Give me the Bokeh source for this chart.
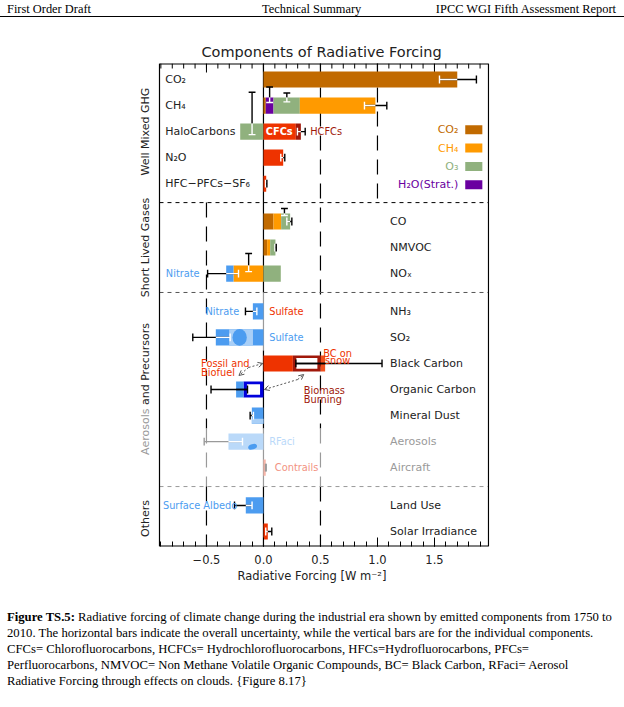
import math
from bokeh.plotting import figure
from bokeh.models import Range1d, FixedTicker, Arrow, OpenHead, Div
from bokeh.layouts import column
from bokeh.embed import file_html
from bokeh.resources import INLINE
from bokeh.core.properties import value

# ------------------------------------------------------------------ data
groups = ["Well Mixed GHG", "Short Lived Gases", "Aerosols and Precursors", "Others"]
row_names = ["CO₂", "CH₄", "HaloCarbons", "N₂O", "HFC−PFCs−SF₆",
             "CO", "NMVOC", "NOₓ",
             "NH₃", "SO₂", "Black Carbon", "Organic Carbon", "Mineral Dust", "Aerosols", "Aircraft",
             "Land Use", "Solar Irradiance"]
row_group = [0, 0, 0, 0, 0, 1, 1, 1, 2, 2, 2, 2, 2, 2, 2, 3, 3]

# stacked components (row, component, forcing W m-2)
seg_row = ["CO₂",
           "CH₄", "CH₄", "CH₄", "CH₄",
           "HaloCarbons", "HaloCarbons", "HaloCarbons",
           "N₂O", "HFC−PFCs−SF₆",
           "CO", "CO", "CO",
           "NMVOC", "NMVOC", "NMVOC",
           "NOₓ", "NOₓ", "NOₓ",
           "NH₃", "SO₂",
           "Black Carbon", "Black Carbon", "Black Carbon",
           "Organic Carbon", "Organic Carbon",
           "Mineral Dust", "Aerosols", "Aircraft", "Land Use", "Solar Irradiance"]
seg_comp = ["CO2",
            "CO2", "H2O", "O3", "CH4",
            "O3", "CFCs", "HCFCs",
            "N2O", "HFC",
            "CO2", "CH4", "O3",
            "CO2", "CH4", "O3",
            "CH4", "Nitrate", "O3",
            "Nitrate", "Sulfate",
            "BC fossil", "BC biomass", "BC snow",
            "OC biomass", "OC fossil",
            "Dust", "RFaci", "Contrails", "Albedo", "Solar"]
seg_value = [1.70,
             0.020, 0.068, 0.231, 0.663,
             -0.204, 0.284, 0.044,
             0.173, 0.024,
             0.088, 0.067, 0.079,
             0.032, 0.027, 0.046,
             -0.263, -0.064, 0.152,
             -0.093, -0.418,
             0.258, 0.245, 0.038,
             -0.175, -0.065,
             -0.102, -0.307, 0.020, -0.155, 0.038]

# overall uncertainty (horizontal bars), one per row
unc_lo = [1.544, 0.886, 0.298, 0.152, 0.018, 0.205, 0.100, -0.490, -0.158, -0.620,
          0.284, -0.460, -0.117, -0.520, 0.018, -0.254, 0.020]
unc_hi = [1.868, 1.082, 0.366, 0.187, 0.030, 0.249, 0.112, -0.219, -0.058, -0.292,
          1.040, -0.140, -0.088, -0.184, 0.024, -0.100, 0.073]

# individual component uncertainty (vertical bars): x, top / bottom (row units)
vb_row = ["CH₄", "CH₄", "HaloCarbons", "CO", "NOₓ"]
vb_x = [0.054, 0.205, -0.100, 0.184, -0.130]
vb_top = [0.71, 0.48, 1.51, 0.50, 0.77]
vb_bot = [0.115, 0.14, -0.115, 0.23, 0.077]

legend_names = ["CO₂", "CH₄", "O₃", "H₂O(Strat.)"]
legend_comp = ["CO2", "CH4", "O3", "H2O"]

x_ticks = [-0.5, 0.0, 0.5, 1.0, 1.5]
x_tick_labels = ["−0.5", "0.0", "0.5", "1.0", "1.5"]

# ------------------------------------------------------------------ styles
FONT = "DejaVu Sans"
INK = "#222222"
comp_color = {"CO2": "#C16A00", "CH4": "#FF9A00", "O3": "#90B17E", "H2O": "#6A00A0",
              "CFCs": "#EE3300", "HCFCs": "#A0180A", "N2O": "#EE3300", "HFC": "#EE3300",
              "Nitrate": "#4C9CF0", "Sulfate": "#4C9CF0", "BC fossil": "#EE3300",
              "BC biomass": "#A0180A", "BC snow": "#F2501E", "OC biomass": "#0000DD",
              "OC fossil": "#4C9CF0", "Dust": "#4C9CF0", "RFaci": "#BAD9F9",
              "Contrails": "#F7B5A8", "Albedo": "#4C9CF0", "Solar": "#EE3300"}
LIGHT_BLUE = "#A9CFF7"
GRAY = "#9A9A9A"
BAR_H = 0.62
PX = 1.0 / 26.05          # one pixel in row units
XPX = 1.0 / 114.0         # one pixel in forcing units

gap = 0.45
ypos = [-(i + gap * g) for i, g in enumerate(row_group)]
yrow = dict(zip(row_names, ypos))
y_top = ypos[0] + 16 * PX
y_bot = ypos[-1] - 15 * PX
BX0, BX1 = -0.912, 1.974            # chart box
FX0, FX1 = BX0 - 25 * XPX, BX1 + 1 * XPX   # frame incl. group-label strip

p = figure(width=624, height=587, x_range=Range1d(FX0, FX1), y_range=Range1d(y_bot, y_top),
           output_backend="svg", toolbar_location=None, y_axis_location=None,
           min_border_left=134, min_border_right=135, min_border_top=45, min_border_bottom=59,
           background_fill_color="white", border_fill_color="white")
p.grid.visible = False
p.outline_line_color = None

p.title.text = "Components of Radiative Forcing"
p.title.align = "left"
p.title.offset = 67
p.title.text_font = FONT
p.title.text_font_size = "14.5px"
p.title.text_font_style = "normal"
p.title.text_color = INK
p.title.standoff = 7

minor = [round(i * 0.1, 1) for i in range(-9, 20)]
ax = p.xaxis[0]
ax.ticker = FixedTicker(ticks=x_ticks, minor_ticks=minor)
ax.major_label_overrides = dict(zip(x_ticks, x_tick_labels))
ax.major_tick_in = 9
ax.major_tick_out = 0
ax.minor_tick_in = 5
ax.minor_tick_out = 0
ax.major_tick_line_color = "black"
ax.minor_tick_line_color = "black"
ax.major_label_standoff = 8
ax.major_label_text_font = FONT
ax.major_label_text_font_size = "11.5px"
ax.major_label_text_color = INK
ax.axis_label = "Radiative Forcing [W m⁻²]"
ax.axis_label_text_font = FONT
ax.axis_label_text_font_size = "11.5px"
ax.axis_label_text_font_style = "normal"
ax.axis_label_text_color = INK
ax.axis_label_standoff = 2
ax.axis_line_color = None

# ------------------------------------------------------------------ guide lines
sep = []
for g in range(len(groups) - 1):
    last = max(i for i, gg in enumerate(row_group) if gg == g)
    sep.append((ypos[last] + ypos[last + 1]) / 2)
y_aer_top = yrow["Aerosols"] + 0.5
y_bc_top = yrow["Black Carbon"] + 0.5

dash_x = [1.0, 0.5, 0.5, 0.5, -0.5, -0.5, -0.5]
dash_y0 = [y_top, y_top, y_aer_top, sep[2], sep[0], y_aer_top, sep[2]]
dash_y1 = [sep[0], y_aer_top, sep[2], y_bot, y_aer_top, sep[2], y_bot]
dash_c = ["black", "black", GRAY, "black", "black", GRAY, "black"]
p.segment(x0=dash_x, y0=dash_y0, x1=dash_x, y1=dash_y1, line_color=dash_c,
          line_width=1.2, line_dash="15 9")

zero_y0 = [y_top, sep[1], y_bc_top, y_aer_top, sep[2]]
zero_y1 = [sep[1], y_bc_top, y_aer_top, sep[2], y_bot]
zero_c = ["black", GRAY, "black", GRAY, "black"]
p.segment(x0=[0] * 5, y0=zero_y0, x1=[0] * 5, y1=zero_y1, line_color=zero_c, line_width=1.2)

p.segment(x0=[BX0] * 3, y0=sep, x1=[BX1] * 3, y1=sep, line_color=["black", "#555555", GRAY],
          line_width=1, line_dash="4 4")

# chart box and top ticks
p.segment(x0=[BX0, BX0, BX0, BX1], y0=[y_top, y_bot, y_bot, y_bot],
          x1=[BX1, BX1, BX0, BX1], y1=[y_top, y_bot, y_top, y_top],
          line_color="black", line_width=[2, 2, 1.2, 1.2])
p.segment(x0=x_ticks, y0=[y_top] * len(x_ticks), x1=x_ticks, y1=[y_top - 9 * PX] * len(x_ticks),
          line_color="black", line_width=1)
p.segment(x0=minor, y0=[y_top] * len(minor), x1=minor, y1=[y_top - 5 * PX] * len(minor),
          line_color="black", line_width=1)

# ------------------------------------------------------------------ bars
pos_acc = {r: 0.0 for r in row_names}
neg_acc = {r: 0.0 for r in row_names}
seg_left, seg_right = [], []
for r, v in zip(seg_row, seg_value):
    if v >= 0:
        l = pos_acc[r]; rr = l + v; pos_acc[r] = rr
    else:
        rr = neg_acc[r]; l = rr + v; neg_acc[r] = l
    seg_left.append(l)
    seg_right.append(rr)
bar_min = dict(neg_acc)
bar_max = dict(pos_acc)

p.hbar(y=[yrow[r] for r in seg_row], left=seg_left, right=seg_right, height=BAR_H,
       fill_color=[comp_color[c] for c in seg_comp], line_color=None)

# white interiors of boxed (biomass) components
box_i = [i for i, c in enumerate(seg_comp) if c in ("BC biomass", "OC biomass")]
p.hbar(y=[yrow[seg_row[i]] for i in box_i], left=[seg_left[i] + 0.03 for i in box_i],
       right=[seg_right[i] - 0.03 for i in box_i], height=BAR_H - 0.21,
       fill_color="white", line_color=None)

# sulfate texture, dust strip, RFaci blob
sv = seg_value[seg_comp.index("Sulfate")]
p.hbar(y=[yrow["SO₂"]], left=[0.72 * sv], right=[0.22 * sv], height=BAR_H,
       fill_color=LIGHT_BLUE, line_color=None)
p.ellipse(x=[0.5 * sv], y=[yrow["SO₂"]], width=-0.3 * sv, height=BAR_H * 1.04,
          fill_color=comp_color["Sulfate"], line_color=None)
dv = seg_value[seg_comp.index("Dust")]
p.hbar(y=[yrow["Mineral Dust"] - BAR_H / 2 + 2.5 * PX], left=[dv], right=[0], height=5 * PX,
       fill_color=LIGHT_BLUE, line_color=None)
rv = seg_value[seg_comp.index("RFaci")]
p.ellipse(x=[0.31 * rv], y=[yrow["Aerosols"] - 0.2], width=-0.26 * rv, height=0.2, angle=0.3,
          fill_color=comp_color["Nitrate"], line_color=None)

# ------------------------------------------------------------------ uncertainty bars
gray_rows = {"Aerosols", "Aircraft"}
boxed_rows = {"Black Carbon", "Organic Carbon"}
lx0, lx1, ly, lc = [], [], [], []
cx, cy0, cy1, cc = [], [], [], []
for i, r in enumerate(row_names):
    lo, hi, y = unc_lo[i], unc_hi[i], yrow[r]
    outer = GRAY if r in gray_rows else "black"
    inner = "black" if r in boxed_rows else (GRAY if r == "Aircraft" else "white")
    lx0.append(lo); lx1.append(hi); ly.append(y); lc.append(outer)
    a, b = max(lo, bar_min[r]), min(hi, bar_max[r])
    if a < b:
        lx0.append(a); lx1.append(b); ly.append(y); lc.append(inner)
    for xx in (lo, hi):
        cx.append(xx); cy0.append(y - 0.15); cy1.append(y + 0.15)
        cc.append(inner if bar_min[r] <= xx <= bar_max[r] else outer)
p.segment(x0=lx0, y0=ly, x1=lx1, y1=ly, line_color=lc, line_width=1.4)
p.segment(x0=cx, y0=cy0, x1=cx, y1=cy1, line_color=cc, line_width=1.4)

vx, vy0, vy1, vc = [], [], [], []
hx0, hx1, hy, hc = [], [], [], []
half = BAR_H / 2
for r, x, t, b in zip(vb_row, vb_x, vb_top, vb_bot):
    y = yrow[r]
    if t > half:
        vx.append(x); vy0.append(y + half); vy1.append(y + t); vc.append("black")
        vx.append(x); vy0.append(y + b); vy1.append(y + half); vc.append("white")
    else:
        vx.append(x); vy0.append(y + b); vy1.append(y + t); vc.append("white")
    hx0 += [x - 0.03, x - 0.03]; hx1 += [x + 0.03, x + 0.03]
    hy += [y + t, y + b]
    hc += ["black" if t > half else "white", "white" if -half < b < half else "black"]
p.segment(x0=vx, y0=vy0, x1=vx, y1=vy1, line_color=vc, line_width=1.4)
p.segment(x0=hx0, y0=hy, x1=hx1, y1=hy, line_color=hc, line_width=1.4)

# ------------------------------------------------------------------ texts
left_rows = row_names[:5]
right_rows = row_names[5:]
p.text(x=[-0.862] * len(left_rows), y=[yrow[r] for r in left_rows], text=left_rows,
       text_font=value(FONT), text_font_size="11px", text_color=INK,
       text_align="left", text_baseline="middle")
p.text(x=[1.111] * len(right_rows), y=[yrow[r] for r in right_rows], text=right_rows,
       text_font=value(FONT), text_font_size="11px",
       text_color=[GRAY if r in gray_rows else INK for r in right_rows],
       text_align="left", text_baseline="middle")

note_text = ["HCFCs", "Sulfate", "Sulfate", "RFaci", "Contrails", "Surface Albedo"]
note_row = ["HaloCarbons", "NH₃", "SO₂", "Aerosols", "Aircraft", "Land Use"]
note_x = [0.41, 0.05, 0.05, 0.05, 0.10, -0.882]
note_c = ["#A0180A", "#EE3300", "#4C9CF0", "#BAD9F9", "#F29282", "#4C9CF0"]
p.text(x=note_x, y=[yrow[r] for r in note_row], text=note_text, text_font=value(FONT),
       text_font_size="9.8px", text_color=note_c, text_align="left", text_baseline="middle")
p.text(x=[-0.56, -0.213], y=[yrow["NOₓ"], yrow["NH₃"]], text=["Nitrate", "Nitrate"],
       text_font=value(FONT), text_font_size="9.8px", text_color="#4C9CF0",
       text_align="right", text_baseline="middle")
p.text(x=[0.02], y=[yrow["HaloCarbons"]], text=["CFCs"], text_font=value(FONT),
       text_font_size="9.8px", text_font_style="bold", text_color="white",
       text_align="left", text_baseline="middle")
yb, yo = yrow["Black Carbon"], yrow["Organic Carbon"]
p.text(x=[-0.547, -0.547, 0.65, 0.65, 0.353, 0.353],
       y=[yb - 0 * PX, yb - 9.3 * PX, yb + 10 * PX, yb + 3 * PX, yo - 0.7 * PX, yo - 10 * PX],
       text=["Fossil and", "Biofuel", "BC on", "snow", "Biomass", "Burning"],
       text_align=["left", "left", "center", "center", "left", "left"],
       text_color=["#EE3300", "#EE3300", "#EE3300", "#EE3300", "#A0180A", "#A0180A"],
       text_font=value(FONT), text_font_size="9.8px", text_baseline="alphabetic")

# dotted pointer arrows
for xs, ys, xe, ye in [(-0.13, yb - 4 * PX, -0.005, yb),
                       (-0.13, yb - 4 * PX, -0.215, yb - 12 * PX),
                       (0.30, yo + 10 * PX, 0.008, yo),
                       (0.30, yo + 10 * PX, 0.353, yo + 15 * PX)]:
    p.add_layout(Arrow(end=OpenHead(size=5, line_color="#555555", line_width=1),
                       x_start=xs, y_start=ys, x_end=xe, y_end=ye,
                       line_color="#555555", line_width=1, line_dash="2 2"))

# legend
leg_y = [yrow["HaloCarbons"] + 1.8 * PX - 18.3 * PX * i for i in range(len(legend_names))]
p.hbar(y=leg_y, left=1.77, right=1.92, height=9 * PX,
       fill_color=[comp_color[c] for c in legend_comp], line_color=None)
p.text(x=[1.71] * 4, y=leg_y, text=legend_names, text_font=value(FONT), text_font_size="11px",
       text_color=[comp_color[c] for c in legend_comp], text_align="right",
       text_baseline="middle")

# group labels (strip left of the chart box)
GX = -1.038
gcent = []
for g in range(len(groups)):
    ys = [ypos[i] for i, gg in enumerate(row_group) if gg == g]
    gcent.append((max(ys) + min(ys)) / 2)
split = gcent[2] - 19 * PX
g_text = [groups[0], groups[1], groups[3], "Aerosols", "and Precursors"]
g_y = [gcent[0], gcent[1], gcent[3], split, split + 3.5 * PX]
p.text(x=[GX] * 5, y=g_y, text=g_text, angle=math.pi / 2,
       text_align=["center", "center", "center", "right", "left"],
       text_color=[INK, INK, INK, GRAY, INK], text_font=value(FONT), text_font_size="11px",
       text_baseline="middle")

# ------------------------------------------------------------------ page header / caption
SERIF = "font-family:'Liberation Serif','Times New Roman',serif;color:#000;"
header = Div(width=624, height=18, margin=(0, 0, 0, 0), text=(
    '<div style="position:relative;width:624px;height:17px;border-bottom:1px solid #000;'
    + SERIF + 'font-size:12.4px;line-height:14px;">'
    '<span style="position:absolute;left:7px;top:2px;white-space:nowrap;">First Order Draft</span>'
    '<span style="position:absolute;left:262px;top:2px;white-space:nowrap;">Technical Summary</span>'
    '<span style="position:absolute;right:8px;top:2px;white-space:nowrap;">IPCC WGI Fifth Assessment Report</span>'
    '</div>'))
caption = Div(width=624, height=100, margin=(0, 0, 0, 0), text=(
    '<div style="' + SERIF + 'font-size:12.7px;line-height:16px;'
    'white-space:nowrap;padding-top:4px;padding-left:7px;">'
    '<b>Figure TS.5:</b> Radiative forcing of climate change during the industrial era shown by emitted components from 1750 to<br>'
    '2010. The horizontal bars indicate the overall uncertainty, while the vertical bars are for the individual components.<br>'
    'CFCs= Chlorofluorocarbons, HCFCs= Hydrochlorofluorocarbons, HFCs=Hydrofluorocarbons, PFCs=<br>'
    'Perfluorocarbons, NMVOC= Non Methane Volatile Organic Compounds, BC= Black Carbon, RFaci= Aerosol<br>'
    'Radiative Forcing through effects on clouds. {Figure 8.17}'
    '</div>'))

layout = column(header, p, caption, spacing=0, margin=(0, 0, 0, 0))
open("out.html", "w").write(file_html(layout, INLINE))
